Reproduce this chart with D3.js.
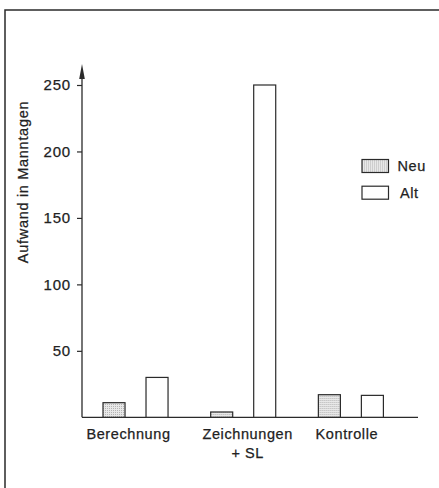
<!DOCTYPE html>
<html>
<head>
<meta charset="utf-8">
<script src="https://cdn.jsdelivr.net/npm/d3@7"></script>
<style>
  body { margin: 0; background: #fff; }
  svg { display: block; }
  text { font-family: "Liberation Sans", Arial, sans-serif; fill: #222; stroke: #222; stroke-width: 0.25px; }
</style>
</head>
<body>
<svg id="chart"></svg>
<script>
const categories = ['Berechnung', 'Zeichnungen\n+ SL', 'Kontrolle'];
const series = ['Neu', 'Alt'];
const neuValues = [11, 4, 17];
const altValues = [30, 250, 16.5];
const yTicks = [50, 100, 150, 200, 250];
const yLabel = 'Aufwand in Manntagen';

const width = 439, height = 488;
const ink = '#2a2a2a';

const svg = d3.select('#chart')
  .attr('width', width)
  .attr('height', height);

// stippled fill for "Neu"
const defs = svg.append('defs');
const pat = defs.append('pattern')
  .attr('id', 'dots')
  .attr('patternUnits', 'userSpaceOnUse')
  .attr('width', 2).attr('height', 2);
pat.append('rect').attr('width', 2).attr('height', 2).attr('fill', '#e8e8e8');
pat.append('rect').attr('width', 1).attr('height', 1).attr('fill', '#b4b4b4');

// outer frame (runs off the right and bottom edge like the scan)
svg.append('rect')
  .attr('x', 5).attr('y', 10)
  .attr('width', 450).attr('height', 500)
  .attr('fill', 'none')
  .attr('stroke', ink)
  .attr('stroke-width', 1.5);

const yScale = d3.scaleLinear()
  .domain([0, 250])
  .range([417.3, 85]);

const xScale = d3.scaleBand()
  .domain(categories)
  .range([103, 383.4])
  .paddingInner(0.396)
  .paddingOuter(0);

const xInner = d3.scaleBand()
  .domain(series)
  .range([0, xScale.bandwidth()])
  .paddingInner(0.488);

const axisX = 82;

// y axis
const yAxis = svg.append('g')
  .attr('transform', `translate(${axisX},0)`)
  .call(d3.axisLeft(yScale).tickValues(yTicks).tickSize(5).tickPadding(6));
yAxis.select('.domain').remove();
yAxis.selectAll('.tick line').attr('stroke', ink).attr('stroke-width', 1.2);
yAxis.selectAll('.tick text')
  .style('font-family', '"Liberation Sans", Arial, sans-serif')
  .style('font-size', '15px')
  .style('letter-spacing', '0.8px')
  .attr('fill', '#222');

svg.append('line')
  .attr('x1', axisX).attr('x2', axisX)
  .attr('y1', yScale(0)).attr('y2', 72)
  .attr('stroke', ink).attr('stroke-width', 1.3);
svg.append('path')
  .attr('d', `M${axisX},64 L${axisX - 2.8},79 L${axisX + 2.8},79 Z`)
  .attr('fill', ink);

// baseline
svg.append('line')
  .attr('x1', axisX).attr('x2', 418)
  .attr('y1', yScale(0)).attr('y2', yScale(0))
  .attr('stroke', ink).attr('stroke-width', 1.3);

// y label
svg.append('text')
  .attr('transform', `translate(28,182) rotate(-90)`)
  .attr('text-anchor', 'middle')
  .style('font-size', '14.5px')
  .style('letter-spacing', '0.7px')
  .text(yLabel);

// bars
const rows = categories.map((c, i) => ({ cat: c, Neu: neuValues[i], Alt: altValues[i] }));
const groups = svg.append('g').selectAll('g')
  .data(rows)
  .join('g')
  .attr('transform', d => `translate(${xScale(d.cat)},0)`);

groups.selectAll('rect')
  .data(d => series.map(s => ({ s, v: d[s] })))
  .join('rect')
  .attr('x', d => xInner(d.s))
  .attr('y', d => yScale(d.v))
  .attr('width', xInner.bandwidth())
  .attr('height', d => yScale(0) - yScale(d.v))
  .attr('fill', d => d.s === 'Neu' ? 'url(#dots)' : '#fff')
  .attr('stroke', ink)
  .attr('stroke-width', 1.2);

// category labels
const labelOffset = [-7, 4.5, -4];
svg.append('g').selectAll('text')
  .data(categories)
  .join('text')
  .attr('x', (d, i) => xScale(d) + xScale.bandwidth() / 2 + labelOffset[i])
  .attr('y', 439)
  .attr('text-anchor', 'middle')
  .style('font-size', '14.5px')
  .style('letter-spacing', '0.6px')
  .each(function (d) {
    const t = d3.select(this);
    d.split('\n').forEach((line, j) => {
      t.append('tspan')
        .attr('x', t.attr('x'))
        .attr('dy', j === 0 ? 0 : 18.7)
        .text(line);
    });
  });

// legend
const legend = svg.append('g').selectAll('g')
  .data(series)
  .join('g')
  .attr('transform', (d, i) => `translate(362,${159.5 + i * 26.7})`);
legend.append('rect')
  .attr('width', 26.5).attr('height', 13)
  .attr('fill', d => d === 'Neu' ? 'url(#dots)' : '#fff')
  .attr('stroke', ink)
  .attr('stroke-width', 1.2);
legend.append('text')
  .attr('x', (d, i) => i === 0 ? 35.5 : 38)
  .attr('y', 11.5)
  .style('font-size', '14.5px')
  .style('letter-spacing', '0.6px')
  .text(d => d);
</script>
</body>
</html>
